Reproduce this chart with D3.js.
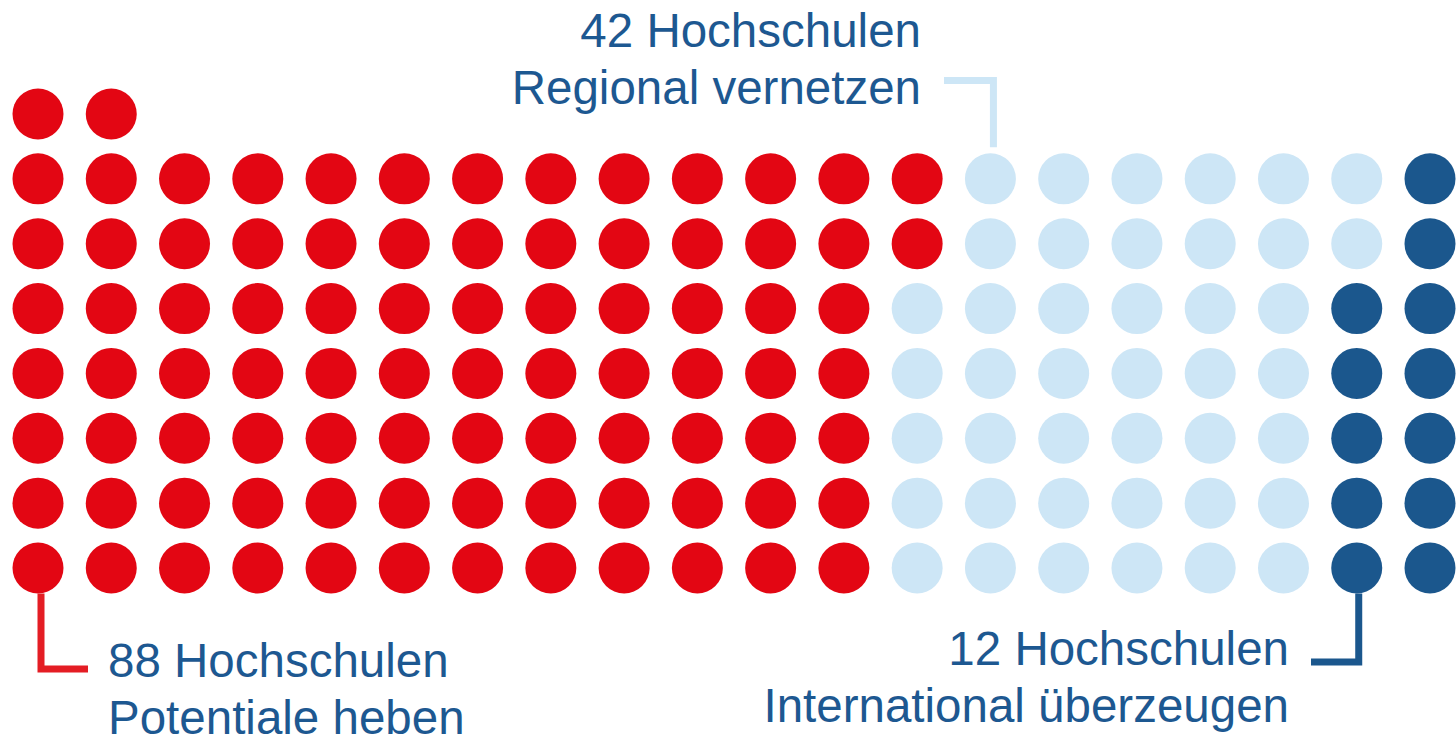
<!DOCTYPE html>
<html>
<head>
<meta charset="utf-8">
<script src="https://cdn.jsdelivr.net/npm/d3@7"></script>
<style>
  html, body { margin: 0; padding: 0; background: #fff; }
  svg { display: block; }
  text { font-family: "Liberation Sans", Arial, sans-serif; }
</style>
</head>
<body>
<svg></svg>
<script>
// categories and counts (one dot per Hochschule)
const groups = ['Potentiale heben', 'Regional vernetzen', 'International überzeugen']
const counts = [88, 42, 12]
const labels = ['88 Hochschulen', '42 Hochschulen', '12 Hochschulen']
const colors = ['#e30613', '#cde6f6', '#1b578d']
const textColor = '#1d5891'

// grid: 20 columns, first two have 8 slots, rest 7 (start at row 1)
const nCols = 20
const nRows = 8

const svg = d3.select('svg')
  .attr('width', 1456)
  .attr('height', 738)

const x = d3.scalePoint()
  .domain(d3.range(nCols))
  .range([38, 1430])

const y = d3.scalePoint()
  .domain(d3.range(nRows))
  .range([114, 568])

const r = 25.5

// build the slots column by column, top to bottom
const slots = []
d3.range(nCols).forEach(c => {
  const start = c < 2 ? 0 : 1
  d3.range(start, nRows).forEach(row => slots.push({ col: c, row: row }))
})

// assign each slot to a group in order
let k = 0
counts.forEach((n, g) => {
  d3.range(n).forEach(() => { slots[k].group = g; k++ })
})

svg.append('g')
  .selectAll('circle')
  .data(slots)
  .enter()
  .append('circle')
  .attr('cx', d => x(d.col))
  .attr('cy', d => y(d.row))
  .attr('r', r)
  .attr('fill', d => colors[d.group])

// leader lines
const lines = svg.append('g')
  .attr('fill', 'none')
  .attr('stroke-width', 7)

// red: from bottom of first column down and right
const rx = x(0) + 3
lines.append('path')
  .attr('stroke', '#e41d24')
  .attr('d', `M${rx},${y(7) + r} V669 H88`)

// light blue: from top label across and down to column 13
const lx = x(13) + 3
lines.append('path')
  .attr('stroke', colors[1])
  .attr('d', `M944,80.5 H${lx} V${y(1) - r - 6}`)

// dark blue: from column 18 bottom down and left
const dx = x(18) + 2
lines.append('path')
  .attr('stroke', colors[2])
  .attr('d', `M${dx},${y(7) + r} V662 H1311`)

// text labels
const fs = 47.5
const label = (tx, ty, anchor, lines2) => {
  const t = svg.append('text')
    .attr('x', tx)
    .attr('y', ty)
    .attr('text-anchor', anchor)
    .attr('font-size', fs)
    .attr('fill', textColor)
  lines2.forEach((s, i) => {
    t.append('tspan')
      .attr('x', tx)
      .attr('dy', i === 0 ? 0 : 57)
      .text(s)
  })
}

label(921, 47, 'end', [labels[1], groups[1]])
label(108, 677, 'start', [labels[0], groups[0]])
label(1289, 665, 'end', [labels[2], groups[2]])
</script>
</body>
</html>
